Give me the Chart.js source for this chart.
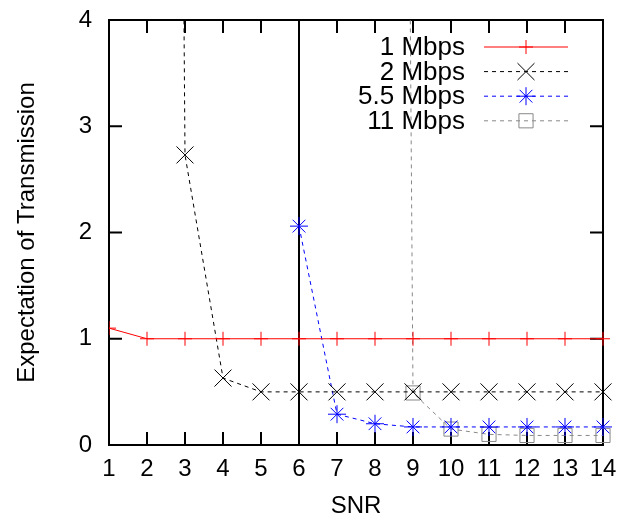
<!DOCTYPE html>
<html>
<head>
<meta charset="utf-8">
<script src="https://cdn.jsdelivr.net/npm/chart.js@4.4.0/dist/chart.umd.min.js"></script>
<style>
  html, body { margin: 0; padding: 0; background: #fff; }
  #chart { display: block; }
</style>
</head>
<body>
<canvas id="chart" width="626" height="523"></canvas>
<script>
'use strict';

// SNR steps on the x axis
const SNR = [1, 2, 3, 4, 5, 6, 7, 8, 9, 10, 11, 12, 13, 14];

// expectation of transmission per rate (null = no point; 50 = far off the top)
const RATE_1  = [1.1, 1.0, 1.0, 1.0, 1.0, 1.0, 1.0, 1.0, 1.0, 1.0, 1.0, 1.0, 1.0, 1.0];
const RATE_2  = [null, 50, 2.73, 0.63, 0.5, 0.5, 0.5, 0.5, 0.5, 0.5, 0.5, 0.5, 0.5, 0.5];
const RATE_55 = [null, null, null, null, null, 2.06, 0.29, 0.2, 0.17, 0.17, 0.17, 0.17, 0.17, 0.17];
const RATE_11 = [null, null, null, null, null, null, null, 50, 0.49, 0.15, 0.1, 0.09, 0.09, 0.09];

const Y_TICKS = [0, 1, 2, 3, 4];
const DIVIDER_SNR = 6;

const FONT = 'Liberation Sans, Arial, Helvetica, sans-serif';

function toPoints(values) {
  return SNR.map((x, i) => ({ x, y: values[i] })).filter(p => p.y !== null);
}

const clipBox = { left: 0, top: 0, right: 12, bottom: 12 };

const datasets = [
  {
    label: '1 Mbps',
    data: toPoints(RATE_1),
    borderColor: '#ff0000',
    borderWidth: 1,
    pointStyle: 'cross',
    pointRadius: 7,
    pointBorderColor: '#ff0000',
    pointBorderWidth: 1,
    clip: clipBox,
  },
  {
    label: '2 Mbps',
    data: toPoints(RATE_2),
    borderColor: '#000000',
    borderWidth: 1,
    borderDash: [4, 4],
    pointStyle: 'crossRot',
    pointRadius: 12,
    pointBorderColor: '#000000',
    pointBorderWidth: 1,
    clip: clipBox,
  },
  {
    label: '5.5 Mbps',
    data: toPoints(RATE_55),
    borderColor: '#0000ff',
    borderWidth: 1,
    borderDash: [4, 4],
    pointStyle: 'star',
    pointRadius: 9,
    pointBorderColor: '#0000ff',
    pointBorderWidth: 1,
    clip: clipBox,
  },
  {
    label: '11 Mbps',
    data: toPoints(RATE_11),
    borderColor: '#888888',
    borderWidth: 1,
    borderDash: [4, 4],
    pointStyle: 'rect',
    pointRadius: 10,
    pointBorderColor: '#888888',
    pointBackgroundColor: 'rgba(0,0,0,0)',
    pointBorderWidth: 1,
    clip: clipBox,
  },
  {
    label: '',
    data: [{ x: DIVIDER_SNR, y: 0 }, { x: DIVIDER_SNR, y: 4 }],
    borderColor: '#000000',
    borderWidth: 2,
    pointRadius: 0,
  },
];

function drawMarker(ctx, style, x, y, r) {
  ctx.beginPath();
  if (style === 'cross' || style === 'star') {
    ctx.moveTo(x - r, y); ctx.lineTo(x + r, y);
    ctx.moveTo(x, y - r); ctx.lineTo(x, y + r);
  }
  if (style === 'crossRot' || style === 'star') {
    const d = r * Math.SQRT1_2;
    ctx.moveTo(x - d, y - d); ctx.lineTo(x + d, y + d);
    ctx.moveTo(x - d, y + d); ctx.lineTo(x + d, y - d);
  }
  if (style === 'rect') {
    const s = r * Math.SQRT1_2;
    ctx.rect(x - s, y - s, 2 * s, 2 * s);
  }
  ctx.stroke();
}

// gnuplot-like frame with inward mirrored ticks
const framePlugin = {
  id: 'frame',
  beforeDatasetsDraw(chart) {
    const { ctx, chartArea: a, scales } = chart;
    ctx.save();
    ctx.strokeStyle = '#000';
    ctx.lineWidth = 2;
    ctx.strokeRect(a.left, a.top, a.right - a.left, a.bottom - a.top);
    ctx.beginPath();
    const len = 13;
    SNR.forEach(v => {
      const px = scales.x.getPixelForValue(v);
      ctx.moveTo(px, a.bottom); ctx.lineTo(px, a.bottom - len);
      ctx.moveTo(px, a.top); ctx.lineTo(px, a.top + len);
    });
    Y_TICKS.forEach(v => {
      const py = scales.y.getPixelForValue(v);
      ctx.moveTo(a.left, py); ctx.lineTo(a.left + len, py);
      ctx.moveTo(a.right, py); ctx.lineTo(a.right - len, py);
    });
    ctx.stroke();
    ctx.restore();
  },
};

// key in the top right, text right aligned before the sample
const keyPlugin = {
  id: 'key',
  afterDatasetsDraw(chart) {
    const { ctx } = chart;
    const textRight = 465, lineL = 484, lineR = 568, top = 47, step = 24.6;
    ctx.save();
    ctx.font = '26px ' + FONT;
    ctx.textAlign = 'right';
    ctx.textBaseline = 'middle';
    chart.data.datasets.filter(d => d.label).forEach((d, i) => {
      const y = top + i * step;
      ctx.fillStyle = '#000';
      ctx.fillText(d.label, textRight, y + 1);
      ctx.strokeStyle = d.borderColor;
      ctx.lineWidth = 1;
      ctx.setLineDash(d.borderDash || []);
      ctx.beginPath();
      ctx.moveTo(lineL, y); ctx.lineTo(lineR, y);
      ctx.stroke();
      ctx.setLineDash([]);
      ctx.strokeStyle = d.pointBorderColor;
      drawMarker(ctx, d.pointStyle, (lineL + lineR) / 2, y, d.pointRadius);
    });
    ctx.restore();
  },
};

new Chart(document.getElementById('chart'), {
  type: 'line',
  data: { datasets },
  options: {
    responsive: false,
    animation: false,
    devicePixelRatio: 1,
    layout: { padding: { top: 20, right: 23, left: 0, bottom: 0 } },
    plugins: {
      legend: { display: false },
      tooltip: { enabled: false },
    },
    scales: {
      x: {
        type: 'linear',
        min: 1,
        max: 14,
        grid: { display: false, drawTicks: false },
        border: { display: false },
        ticks: {
          stepSize: 1,
          padding: 10,
          color: '#000',
          font: { family: FONT, size: 24 },
          maxRotation: 0,
          autoSkip: false,
        },
        title: {
          display: true,
          text: 'SNR',
          color: '#000',
          font: { family: FONT, size: 24 },
          padding: { top: 0, bottom: 2 },
        },
        afterFit(scale) {
          scale.height = 78;
          scale.paddingLeft = 0;
          scale.paddingRight = 0;
        },
      },
      y: {
        min: 0,
        max: 4,
        grid: { display: false, drawTicks: false },
        border: { display: false },
        ticks: {
          stepSize: 1,
          padding: 17,
          color: '#000',
          font: { family: FONT, size: 24 },
        },
        title: {
          display: true,
          text: 'Expectation of Transmission',
          color: '#000',
          font: { family: FONT, size: 24 },
          padding: { top: 13, bottom: 0 },
        },
        afterFit(scale) {
          scale.width = 109;
          scale.paddingTop = 0;
          scale.paddingBottom = 0;
        },
      },
    },
  },
  plugins: [framePlugin, keyPlugin],
});
</script>
</body>
</html>
